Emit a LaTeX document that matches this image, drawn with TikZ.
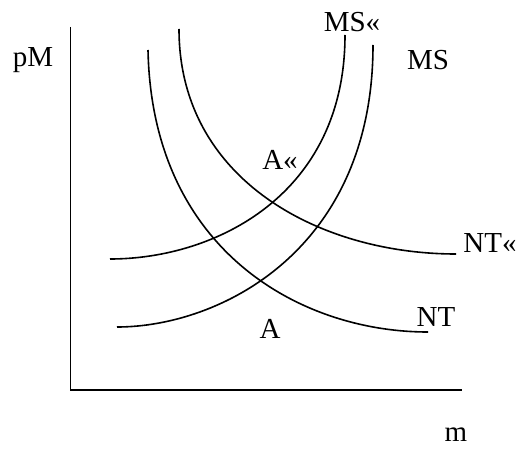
\documentclass[tikz,border=0pt]{standalone}
\usepackage{fontspec}
\setmainfont{Liberation Serif}
\begin{document}
\begin{tikzpicture}[x=1pt,y=-1pt,
  curve/.style={line width=1.6pt},
  axis/.style={line width=1.6pt},
  lab/.style={font=\fontsize{29}{31}\selectfont, inner sep=0pt}]
\useasboundingbox (0,0) rectangle (521,449);
% axes
\coordinate (top) at (70.5,27);
\coordinate (orig) at (70.5,390);
\coordinate (right) at (462,390);
\draw[axis] (top) -- (orig) -- (right);
% NT
\coordinate (nt0) at (148,50);
\coordinate (nt1) at (428,332);
\draw[curve] (nt0) .. controls (152,250) and (300,332) .. (nt1);
% NT'
\coordinate (ntp0) at (179,29);
\coordinate (ntp1) at (456,254);
\draw[curve] (ntp0) .. controls (179,180) and (320,254) .. (ntp1);
% MS
\coordinate (ms0) at (373,45);
\coordinate (ms1) at (117,327);
\draw[curve] (ms0) .. controls (373,250) and (220,327) .. (ms1);
% MS'
\coordinate (msp0) at (345,35);
\coordinate (msp1) at (110,259);
\draw[curve] (msp0) .. controls (345,195) and (215,259) .. (msp1);
% labels
\node[lab] (pM) at (33,60) {pM};
\node[lab] (MSp) at (352,22) {MS«};
\node[lab] (MS) at (428,60) {MS};
\node[lab] (Ap) at (280,160) {A«};
\node[lab] (NTp) at (490,243) {NT«};
\node[lab] (NT) at (436,317) {NT};
\node[lab] (A) at (270,329) {A};
\node[lab] (m) at (456,435) {m};
\end{tikzpicture}
\end{document}
